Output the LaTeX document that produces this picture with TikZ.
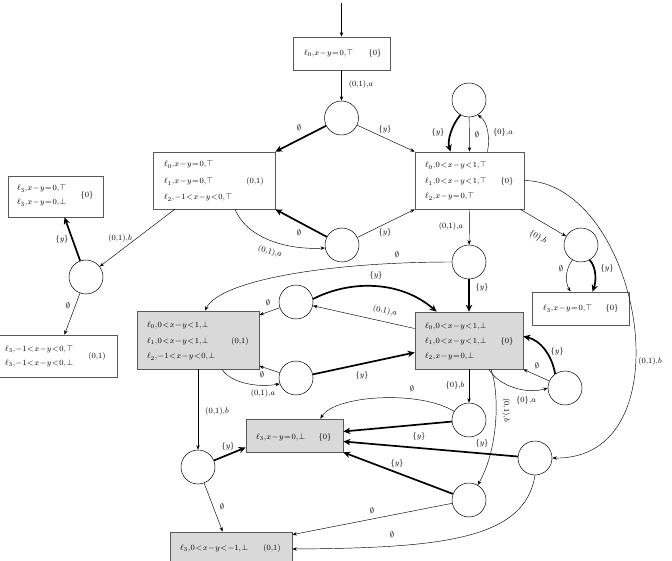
\documentclass[tikz,border=0pt]{standalone}
\usetikzlibrary{arrows.meta,calc}
\newcommand{\tightmath}{\thinmuskip=1mu\medmuskip=1mu\thickmuskip=1.5mu}
\begin{document}
\begin{tikzpicture}[x=1pt,y=-1pt,
 st/.style={circle,draw,minimum size=34pt,inner sep=0pt,line width=0.5pt},
 bx/.style={draw=black!65,line width=0.7pt,inner sep=0pt},
 gbx/.style={bx,fill=black!15},
 tx/.style={font=\footnotesize\tightmath,inner sep=0pt,anchor=west},
 sx/.style={font=\footnotesize,inner sep=0pt},
 lb/.style={font=\footnotesize,inner sep=0pt},
 tn/.style={line width=0.45pt,-{Stealth[length=4.5pt,width=3.4pt]}},
 th/.style={line width=1.7pt,-{Stealth[length=7pt,width=6.5pt]}},
]
\useasboundingbox (0,0) rectangle (672,561);

% boxes
\node[bx,minimum width=97pt,minimum height=33pt] (A) at (341.5,53.5) {};
\node[tx] (A1) at (304,53.5) {$\ell_0,x-y=0,\top$};
\node[sx] (A2) at (375,53.5) {$\{0\}$};

\node[bx,minimum width=122pt,minimum height=57pt] (B) at (214,180.5) {};
\node[tx] (B1) at (164,165) {$\ell_0,x-y=0,\top$};
\node[tx] (B2) at (164,182) {$\ell_1,x-y=0,\top$};
\node[tx] (B3) at (164,198) {$\ell_2,-1<x-y<0,\top$};
\node[sx] (B4) at (255,182) {$(0{,}1)$};

\node[bx,minimum width=109pt,minimum height=57pt] (C) at (469.5,180.5) {};
\node[tx] (C1) at (425,166) {$\ell_0,0<x-y<1,\top$};
\node[tx] (C2) at (425,182) {$\ell_1,0<x-y<1,\top$};
\node[tx] (C3) at (425,197) {$\ell_2,x-y=0,\top$};
\node[sx] (C4) at (507,182) {$\{0\}$};

\node[bx,minimum width=95pt,minimum height=41pt] (D) at (55.5,196.5) {};
\node[tx] (D1) at (17,189) {$\ell_3,x-y=0,\top$};
\node[tx] (D2) at (17,203) {$\ell_3,x-y=0,\bot$};
\node[sx] (D3) at (87,196) {$\{0\}$};

\node[bx,minimum width=119pt,minimum height=42pt] (E) at (57.5,356) {};
\node[tx] (E1) at (5,349) {$\ell_3,-1<x-y<0,\top$};
\node[tx] (E2) at (5,363) {$\ell_3,-1<x-y<0,\bot$};
\node[sx] (E3) at (97,356) {$(0{,}1)$};

\node[gbx,minimum width=122pt,minimum height=58pt] (F) at (198,340) {};
\node[tx] (F1) at (147,325) {$\ell_0,0<x-y<1,\bot$};
\node[tx] (F2) at (147,341) {$\ell_1,0<x-y<1,\bot$};
\node[tx] (F3) at (147,357) {$\ell_2,-1<x-y<0,\bot$};
\node[sx] (F4) at (240,341) {$(0{,}1)$};

\node[gbx,minimum width=108pt,minimum height=57pt] (G) at (469,340.5) {};
\node[tx] (G1) at (425,326) {$\ell_0,0<x-y<1,\bot$};
\node[tx] (G2) at (425,341) {$\ell_1,0<x-y<1,\bot$};
\node[tx] (G3) at (425,356) {$\ell_2,x-y=0,\bot$};
\node[sx] (G4) at (507,341) {$\{0\}$};

\node[bx,minimum width=97pt,minimum height=33pt] (H) at (580.5,308.5) {};
\node[tx] (H1) at (543,309) {$\ell_3,x-y=0,\top$};
\node[sx] (H2) at (612,309) {$\{0\}$};

\node[gbx,minimum width=97pt,minimum height=33pt] (I) at (294.5,435.5) {};
\node[tx] (I1) at (256,437) {$\ell_3,x-y=0,\bot$};
\node[sx] (I2) at (325,437) {$\{0\}$};

\node[gbx,minimum width=122pt,minimum height=30pt] (J) at (231,547) {};
\node[tx] (J1) at (180,548) {$\ell_3,0<x-y<-1,\bot$};
\node[sx] (J2) at (272,548) {$(0{,}1)$};

% circles
\node[st] (c1) at (341.5,118) {};
\node[st] (c2) at (342,245) {};
\node[st] (c3) at (469,100) {};
\node[st] (c4) at (86,277) {};
\node[st] (c5) at (296,302) {};
\node[st] (c6) at (296,378) {};
\node[st] (c7) at (469,262) {};
\node[st] (c8) at (581,245) {};
\node[st] (c9) at (565,388) {};
\node[st] (c10) at (535,458) {};
\node[st] (c11) at (469,420) {};
\node[st] (c12) at (198,467) {};
\node[st] (c13) at (469,500) {};

\coordinate (s) at (341.5,3);

% connectors
\draw[tn] (s) -- (A);
\draw[tn] (A) -- (c1);
\draw[th] (c1) -- (B.north east);
\draw[tn] (c1) -- (C.north west);
\draw[th] (c2) -- (B.south east);
\draw[tn] (c2) -- (C.south west);
\draw[tn] ($(B.south)+(21,0)$) .. controls (248,240) and (290,250) .. (c2.190);
\draw[tn] ($(B.south west)+(22,0)$) -- (c4);
\draw[th] (c4) -- ($(D.south)+(9,0)$);
\draw[tn] (c4) -- ($(E.north)+(7,0)$);
\draw[th] (c3.240) .. controls (452,125) and (447,140) .. ($(C.north)+(-19,0)$);
\draw[tn] (c3) -- (C.north);
\draw[tn] ($(C.north)+(18,0)$) .. controls (490,138) and (488,122) .. (c3.-60);
\draw[tn] (C.south) -- (c7);
\draw[tn] ($(C.south east)+(-4,0)$) -- (c8);
\draw[tn] (c8.240) .. controls (565,270) and (565,282) .. ($(H.north)+(-10,0)$);
\draw[th] (c8.-60) .. controls (597,268) and (596,282) .. ($(H.north)+(12,0)$);
\draw[tn] (C.east) .. controls (640,182) and (690,460) .. (c10.east);
\draw[th] (c7) -- (G.north);
\draw[tn] (c7.west) .. controls (330,262) and (220,280) .. ($(F.north)+(7,0)$);
\draw[tn] (c5) -- ($(F.east)+(0,-25)$);
\draw[th] (c5.10) .. controls (350,280) and (400,280) .. ($(G.north west)+(22,0)$);
\draw[tn] ($(G.west)+(0,-12)$) -- (c5);
\draw[th] (c6) -- ($(G.west)+(0,12)$);
\draw[tn] (c6) -- ($(F.east)+(0,26)$);
\draw[tn] ($(F.south)+(24,0)$) .. controls (230,382) and (255,388) .. (c6.200);
\draw[tn] ($(G.south)+(20,0)$) .. controls (498,385) and (525,395) .. (c9.west);
\draw[th] (c9.125) .. controls (552,355) and (540,340) .. ($(G.east)+(0,-4)$);
\draw[tn] (c9) -- (G.south east);
\draw[tn] ($(G.south)+(22,0)$) .. controls (500,395) and (498,450) .. (c13.60);
\draw[tn] (G.south) -- (c11);
\draw[tn] (c11.150) .. controls (420,390) and (335,395) .. ($(I.north east)+(-23,0)$);
\draw[th] (c11) -- ($(I.east)+(0,-4)$);
\draw[th] (c10) -- ($(I.east)+(0,6)$);
\draw[th] (c13) -- (I.south east);
\draw[tn] (c13) -- ($(J.north east)+(0,3)$);
\draw[tn] (c10.south) .. controls (525,540) and (440,548) .. ($(J.east)+(0,2)$);
\draw[tn] (F.south) -- (c12);
\draw[th] (c12) -- ($(I.west)+(0,12)$);
\draw[tn] (c12) -- ($(J.north west)+(53,0)$);

% labels
\node[lb] (l1) at (361,85) {$(0{,}1){,}a$};
\node[lb] (l2) at (299,128) {$\emptyset$};
\node[lb] (l3) at (385,130) {$\{y\}$};
\node[lb] (l4) at (299,233) {$\emptyset$};
\node[lb] (l5) at (385,233) {$\{y\}$};
\node[lb,rotate=-15] (l6) at (270,252) {$(0{,}1){,}a$};
\node[lb] (l7) at (120,239) {$(0{,}1){,}b$};
\node[lb] (l8) at (62,240) {$\{y\}$};
\node[lb] (l9) at (68,306) {$\emptyset$};
\node[lb] (l10) at (438,133) {$\{y\}$};
\node[lb] (l11) at (477,135) {$\emptyset$};
\node[lb] (l12) at (503,133) {$\{0\}{,}a$};
\node[lb] (l13) at (451,227) {$(0{,}1){,}a$};
\node[lb,rotate=-30] (l14) at (538,237) {$\{0\}{,}b$};
\node[lb] (l15) at (561,269) {$\emptyset$};
\node[lb] (l16) at (607,269) {$\{y\}$};
\node[lb] (l17) at (650,361) {$(0{,}1){,}b$};
\node[lb] (l18) at (482,288) {$\{y\}$};
\node[lb] (l19) at (397,255) {$\emptyset$};
\node[lb] (l20) at (376,276) {$\{y\}$};
\node[lb] (l21) at (268,303) {$\emptyset$};
\node[lb,rotate=-12] (l22) at (385,311) {$(0{,}1){,}a$};
\node[lb] (l23) at (362,375) {$\{y\}$};
\node[lb] (l24) at (262,375) {$\emptyset$};
\node[lb] (l25) at (263,393) {$(0{,}1){,}a$};
\node[lb] (l26) at (557,351) {$\{y\}$};
\node[lb] (l27) at (537,366) {$\emptyset$};
\node[lb] (l28) at (526,400) {$\{0\}{,}a$};
\node[lb] (l29) at (455,385) {$\{0\}{,}b$};
\node[lb,rotate=-90] (l30) at (506,410) {$(0{,}1){,}b$};
\node[lb] (l31) at (412,389) {$\emptyset$};
\node[lb] (l32) at (419,436) {$\{y\}$};
\node[lb] (l33) at (482,443) {$\{y\}$};
\node[lb] (l34) at (397,463) {$\{y\}$};
\node[lb] (l35) at (372,511) {$\emptyset$};
\node[lb] (l36) at (392,535) {$\emptyset$};
\node[lb] (l37) at (217,411) {$(0{,}1){,}b$};
\node[lb] (l38) at (228,446) {$\{y\}$};
\node[lb] (l39) at (222,507) {$\emptyset$};
\end{tikzpicture}
\end{document}
